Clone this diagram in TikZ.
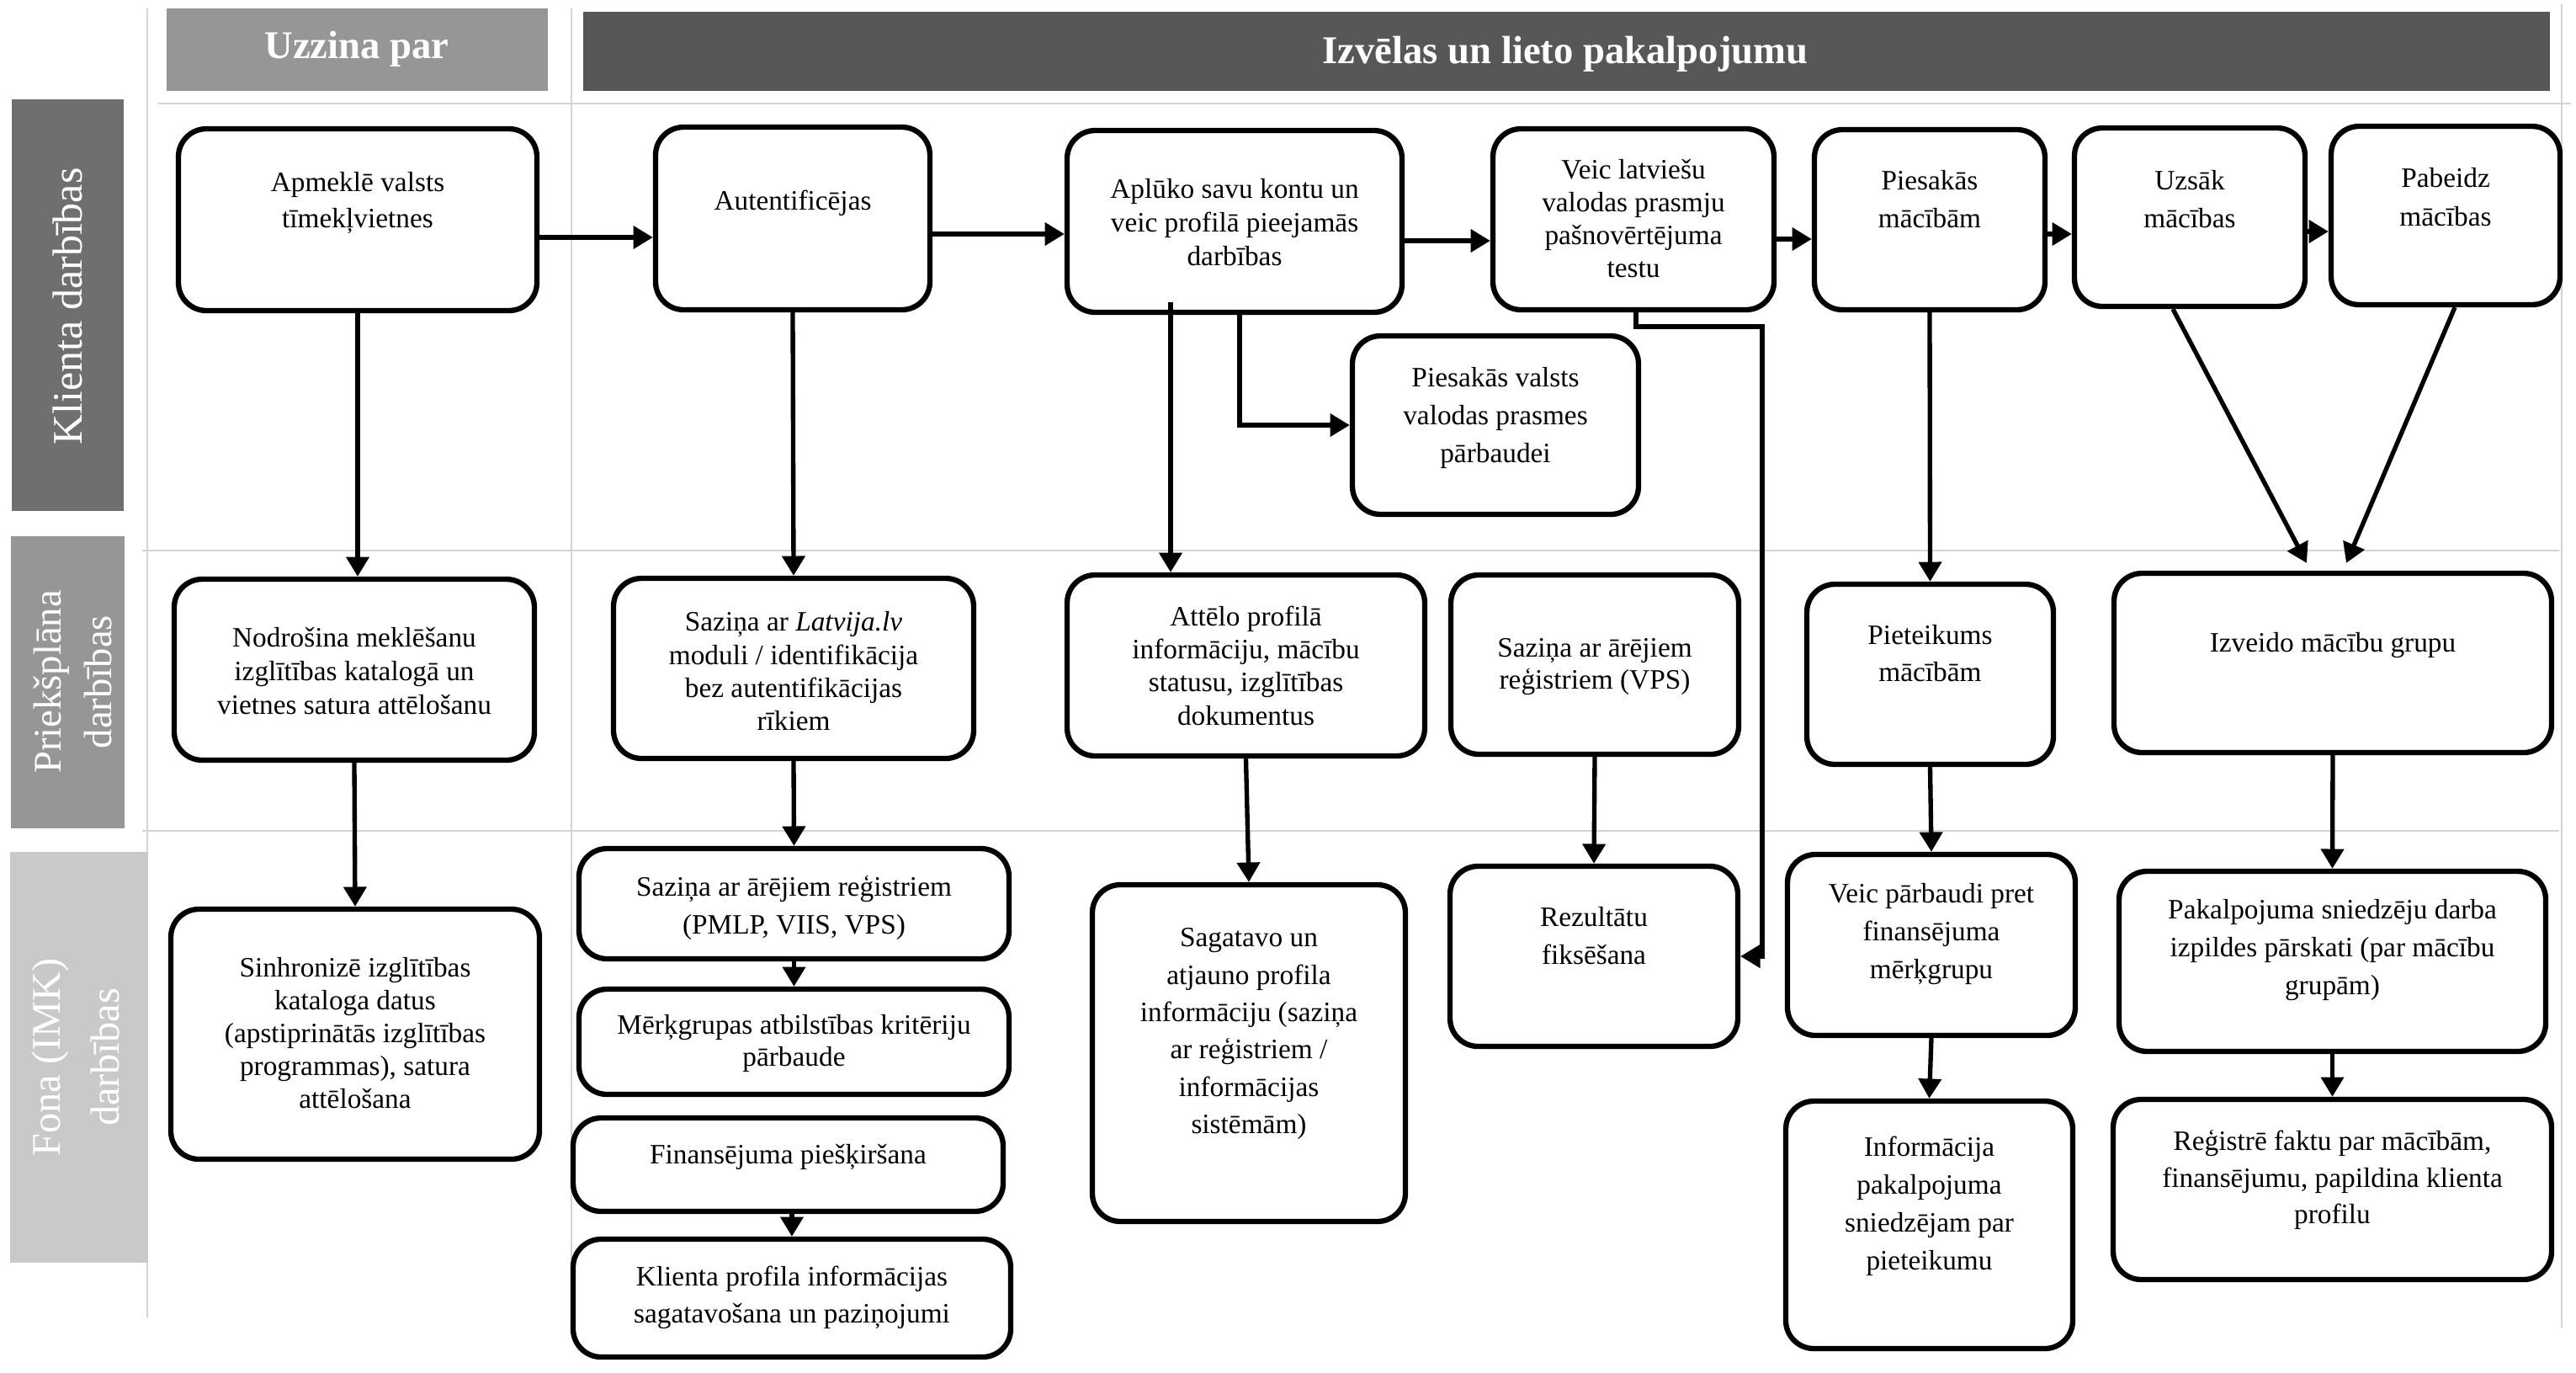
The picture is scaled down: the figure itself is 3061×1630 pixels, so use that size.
\documentclass[tikz,border=0pt]{standalone}
\usepackage{fontspec}
\setmainfont{Liberation Serif}
\usetikzlibrary{arrows.meta,fit,calc}
\definecolor{hdrA}{HTML}{969696}
\definecolor{hdrB}{HTML}{575757}
\definecolor{laneA}{HTML}{6F6F6F}
\definecolor{laneB}{HTML}{969696}
\definecolor{laneC}{HTML}{C9C9C9}
\definecolor{gridc}{HTML}{D3D3D3}
\tikzset{
  stepbox/.style={draw=black, line width=1.9pt, rounded corners=10pt, inner sep=0pt, fill=white},
  btext/.style={align=center, inner sep=0pt},
  conn/.style={line width=1.6pt, -{Triangle[length=7pt,width=8pt]}},
  gridln/.style={draw=gridc, line width=0.7pt},
  lanebox/.style={inner sep=0pt, draw=none},
  lanetext/.style={rotate=90, align=center, text=white, inner sep=0pt},
  hdrtext/.style={text=white, font=\bfseries\fontsize{14}{16}\selectfont, inner sep=0pt},
}
% #1 leading, #2 name, #3 x1, #4 y1, #5 x2, #6 y2, #7 first-line y, #8 text
\newcommand\bx[8][12.5]{%
  \node[stepbox, fit={(#3,#4)(#5,#6)}] (#2) {};
  \node[btext, anchor=north, font=\fontsize{10}{#1}\selectfont] (#2-t) at ({(#3+#5)/2},{#7-13}) {#8};
}
\begin{document}
\begin{tikzpicture}[x=0.3pt, y=-0.3pt]
\useasboundingbox (0,0) rectangle (3061,1630);
\fill[white] (0,0) rectangle (3061,1630);

% grid lines
\draw[gridln] (175,10) -- (175,1565);
\draw[gridln] (679,10) -- (679,1565);
\draw[gridln] (3044,5) -- (3044,1577);
\draw[gridln] (188,123) -- (3055,123);
\draw[gridln] (169,654) -- (3041,654);
\draw[gridln] (169,987) -- (3041,987);

% headers
\node[lanebox, fill=hdrA, fit={(198,10)(651,108)}] (hA) {};
\node[hdrtext] (hA-t) at (424,58) {Uzzina par};
\node[lanebox, fill=hdrB, fit={(693,14)(3030,108)}] (hB) {};
\node[hdrtext] (hB-t) at (1860,64) {Izvēlas un lieto pakalpojumu};

% lane labels
\node[lanebox, fill=laneA, fit={(14,118)(147,607)}] (lA) {};
\node[lanetext, font=\fontsize{15}{18}\selectfont] (lA-t) at (80,364) {Klienta darbības};
\node[lanebox, fill=laneB, fit={(13,637)(148,984)}] (lB) {};
\node[lanetext, font=\fontsize{14}{18}\selectfont] (lB-t) at (86,810) {Priekšplāna\\darbības};
\node[lanebox, fill=laneC, fit={(12,1012)(176,1500)}] (lC) {};
\node[lanetext, font=\fontsize{14.5}{21}\selectfont] (lC-t) at (90,1256) {Fona (IMK)\\darbības};

% row 1
\bx[12.9]{apm}{212}{153}{638}{369}{217}{Apmeklē valsts\\tīmekļvietnes}
\bx{aut}{779}{151}{1105}{368}{238}{Autentificējas}
\bx[11.9]{apl}{1268}{155}{1666}{371}{225}{Aplūko savu kontu un\\veic profilā pieejamās\\darbības}
\bx[11.7]{vlt}{1774}{153}{2108}{368}{202}{Veic latviešu\\valodas prasmju\\pašnovērtējuma\\testu}
\bx[13.4]{pvs}{1607}{399}{1947}{611}{449}{Piesakās valsts\\valodas prasmes\\pārbaudei}
\bx[13.5]{pm}{2156}{154}{2430}{368}{215}{Piesakās\\mācībām}
\bx[13.5]{uzs}{2465}{152}{2739}{364}{215}{Uzsāk\\mācības}
\bx[13.8]{pab}{2770}{150}{3042}{362}{212}{Pabeidz\\mācības}

% row 2
\bx[12]{nod}{207}{688}{635}{903}{758}{Nodrošina meklēšanu\\izglītības katalogā un\\vietnes satura attēlošanu}
\bx[11.8]{lat}{729}{687}{1157}{901}{739}{Saziņa ar \textit{Latvija.lv}\\moduli / identifikācija\\bez autentifikācijas\\rīkiem}
\bx[11.8]{att}{1268}{683}{1693}{898}{732}{Attēlo profilā\\informāciju, mācību\\statusu, izglītības\\dokumentus}
\bx[11.4]{vps}{1724}{683}{2066}{896}{771}{Saziņa ar ārējiem\\reģistriem (VPS)}
\bx[13.2]{piet}{2147}{694}{2440}{908}{755}{Pieteikums\\mācībām}
\bx{izv}{2512}{681}{3032}{894}{764}{Izveido mācību grupu}

% row 3
\bx[11.7]{sin}{203}{1080}{641}{1377}{1150}{Sinhronizē izglītības\\kataloga datus\\(apstiprinātās izglītības\\programmas), satura\\attēlošana}
\bx[13.5]{pmlp}{688}{1008}{1199}{1139}{1053}{Saziņa ar ārējiem reģistriem\\(PMLP, VIIS, VPS)}
\bx[11.4]{merk}{688}{1175}{1199}{1300}{1218}{Mērķgrupas atbilstības kritēriju\\pārbaude}
\bx{fin}{681}{1328}{1192}{1439}{1372}{Finansējuma piešķiršana}
\bx[13.2]{klp}{681}{1472}{1201}{1612}{1516}{Klienta profila informācijas\\sagatavošana un paziņojumi}
\bx[13.3]{sag}{1298}{1051}{1670}{1451}{1115}{Sagatavo un\\atjauno profila\\informāciju (saziņa\\ar reģistriem /\\informācijas\\sistēmām)}
\bx[13.5]{rez}{1723}{1029}{2065}{1243}{1090}{Rezultātu\\fiksēšana}
\bx[13.4]{vpar}{2124}{1015}{2466}{1230}{1062}{Veic pārbaudi pret\\finansējuma\\mērķgrupu}
\bx[13.5]{inf}{2122}{1308}{2463}{1602}{1362}{Informācija\\pakalpojuma\\sniedzējam par\\pieteikumu}
\bx[13.5]{pak}{2518}{1035}{3025}{1249}{1081}{Pakalpojuma sniedzēju darba\\izpildes pārskati (par mācību\\grupām)}
\bx[13]{reg}{2511}{1306}{3032}{1520}{1355}{Reģistrē faktu par mācībām,\\finansējumu, papildina klienta\\profilu}

% connectors row 1
\draw[conn] (apm.east |- 0,282) -- (aut.west |- 0,282);
\draw[conn] (aut.east |- 0,278) -- (apl.west |- 0,278);
\draw[conn] (apl.east |- 0,286) -- (vlt.west |- 0,286);
\draw[conn] (vlt.east |- 0,284) -- (pm.west |- 0,284);
\draw[conn] (pm.east |- 0,278) -- (uzs.west |- 0,278);
\draw[conn] (uzs.east |- 0,275) -- (pab.west |- 0,275);
\draw[conn] (apl.south -| 1473,0) |- (pvs.west);
\draw[conn] ($(apl.south -| 1391,0)+(0,-15)$) -- (att.north -| 1391,0);
\coordinate (bendA) at (1944,388);
\coordinate (bendB) at (2094,388);
\draw[conn] (vlt.south -| bendA) -- (bendA) -- (bendB) |- (rez.east);
\draw[conn] (pm.south) -- (piet.north);
\draw[conn] (uzs.south -| 2582,0) -- ($(izv.north -| 2741,0)+(0,-9)$);
\draw[conn] (pab.south -| 2917,0) -- ($(izv.north -| 2788,0)+(0,-9)$);

% vertical connectors
\draw[conn] (apm.south) -- (apm.south |- nod.north);
\draw[conn] (nod.south) -- (sin.north);
\draw[conn] (aut.south) -- (lat.north);
\draw[conn] (lat.south) -- (pmlp.north);
\draw[conn] (pmlp.south) -- (merk.north);
\draw[conn] (fin.south -| klp.north) -- (klp.north);
\draw[conn] (att.south) -- (sag.north);
\draw[conn] (vps.south) -- (rez.north);
\draw[conn] (piet.south) -- (vpar.north);
\draw[conn] (vpar.south) -- (inf.north);
\draw[conn] (izv.south) -- (pak.north);
\draw[conn] (pak.south) -- (reg.north);
\end{tikzpicture}
\end{document}
